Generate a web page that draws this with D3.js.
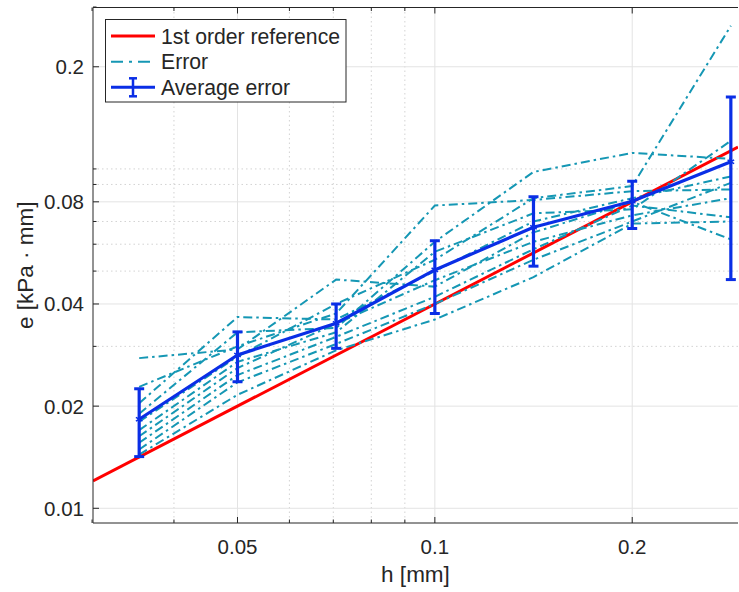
<!DOCTYPE html>
<html lang="en">
<head>
<meta charset="UTF-8">
<script src="https://cdn.jsdelivr.net/npm/d3@7"></script>
<style>
  body { margin: 0; background: #fff; }
  text { font-family: "Liberation Sans", Arial, Helvetica, sans-serif; fill: #262626; }
</style>
</head>
<body>
<div id="chart"></div>
<script>
// step sizes h [mm]
const hValues = [0.0354, 0.05, 0.0707, 0.1, 0.1414, 0.2, 0.2828];

// individual error curves
const errorSeries = [
  [0.0204, 0.0366, 0.0360, 0.0500, 0.0700, 0.0820, 0.0950],
  [0.0277, 0.0294, 0.0472, 0.0450, 0.0650, 0.0800, 0.0620],
  [0.0228, 0.0300, 0.0375, 0.0780, 0.0810, 0.0860, 0.0870],
  [0.0190, 0.0330, 0.0340, 0.0610, 0.0980, 0.1115, 0.1070],
  [0.0180, 0.0280, 0.0400, 0.0540, 0.0820, 0.0890, 0.2640],
  [0.0170, 0.0270, 0.0330, 0.0570, 0.0740, 0.0760, 0.1210],
  [0.0163, 0.0259, 0.0350, 0.0470, 0.0610, 0.0730, 0.0820],
  [0.0156, 0.0247, 0.0320, 0.0420, 0.0580, 0.0780, 0.0720],
  [0.0149, 0.0235, 0.0305, 0.0400, 0.0540, 0.0700, 0.0910],
  [0.0144, 0.0216, 0.0292, 0.0360, 0.0480, 0.0690, 0.0700]
];

// average error with error bar limits
const avgError = [0.0183, 0.0283, 0.0351, 0.0504, 0.0673, 0.0803, 0.1050];
const avgLow   = [0.0142, 0.0236, 0.0296, 0.0375, 0.0517, 0.0667, 0.0472];
const avgHigh  = [0.0225, 0.0331, 0.0400, 0.0614, 0.0828, 0.0920, 0.1630];

// 1st order reference line end points
const refH = [0.0301, 0.29];
const refE = [0.01204, 0.116];

// ticks
const xTicks = [0.05, 0.1, 0.2];
const xMinor = [0.03, 0.04, 0.06, 0.07, 0.08, 0.09];
const yTicks = [0.01, 0.02, 0.04, 0.08, 0.2];
const yMinor = [0.03, 0.05, 0.06, 0.07, 0.09, 0.1, 0.3];

const legendLabels = ["1st order reference", "Error", "Average error"];

const width = 739, height = 592;
const plot = { left: 93, right: 738, top: 7.5, bottom: 523 };

const red = "#ff0000", cyan = "#1597b4", blue = "#0a2ee6";

const svg = d3.select("#chart").append("svg")
  .attr("width", width)
  .attr("height", height);

svg.append("rect").attr("width", width).attr("height", height).attr("fill", "#fff");

const x = d3.scaleLog().domain([0.0301, 0.29]).range([plot.left, plot.right]);
const y = d3.scaleLog().domain([0.00905, 0.299]).range([plot.bottom, plot.top]);

// grid
const grid = svg.append("g");
grid.selectAll(".xminor").data(xMinor.filter(d => x(d) > plot.left + 1)).join("line")
  .attr("x1", d => x(d)).attr("x2", d => x(d))
  .attr("y1", plot.top).attr("y2", plot.bottom)
  .attr("stroke", "#c8c8c8").attr("stroke-width", 0.8).attr("stroke-dasharray", "1.5,3");
grid.selectAll(".yminor").data(yMinor.filter(d => y(d) > plot.top + 1)).join("line")
  .attr("y1", d => y(d)).attr("y2", d => y(d))
  .attr("x1", plot.left).attr("x2", plot.right)
  .attr("stroke", "#c8c8c8").attr("stroke-width", 0.8).attr("stroke-dasharray", "1.5,3");
grid.selectAll(".xmajor").data(xTicks).join("line")
  .attr("x1", d => x(d)).attr("x2", d => x(d))
  .attr("y1", plot.top).attr("y2", plot.bottom)
  .attr("stroke", "#e3e3e3").attr("stroke-width", 1);
grid.selectAll(".ymajor").data(yTicks).join("line")
  .attr("y1", d => y(d)).attr("y2", d => y(d))
  .attr("x1", plot.left).attr("x2", plot.right)
  .attr("stroke", "#e3e3e3").attr("stroke-width", 1);

// clip
svg.append("clipPath").attr("id", "clip").append("rect")
  .attr("x", plot.left).attr("y", plot.top)
  .attr("width", plot.right - plot.left).attr("height", plot.bottom - plot.top);

const marks = svg.append("g").attr("clip-path", "url(#clip)");

const line = d3.line().x(d => x(d[0])).y(d => y(d[1]));

// reference line
marks.append("path")
  .datum(refH.map((h, i) => [h, refE[i]]))
  .attr("d", line)
  .attr("fill", "none").attr("stroke", red).attr("stroke-width", 3);

// error curves
marks.selectAll(".err").data(errorSeries).join("path")
  .attr("d", s => line(hValues.map((h, i) => [h, s[i]])))
  .attr("fill", "none").attr("stroke", cyan)
  .attr("stroke-width", 2).attr("stroke-dasharray", "9,4,2.5,4");

// average error line
marks.append("path")
  .datum(hValues.map((h, i) => [h, avgError[i]]))
  .attr("d", line)
  .attr("fill", "none").attr("stroke", blue).attr("stroke-width", 3.2)
  .attr("stroke-linejoin", "round");

// error bars
const bars = marks.selectAll(".bar").data(hValues).join("g");
bars.append("line")
  .attr("x1", d => x(d)).attr("x2", d => x(d))
  .attr("y1", (d, i) => y(avgLow[i])).attr("y2", (d, i) => y(avgHigh[i]))
  .attr("stroke", blue).attr("stroke-width", 3.2);
bars.append("line")
  .attr("x1", d => x(d) - 5).attr("x2", d => x(d) + 5)
  .attr("y1", (d, i) => y(avgLow[i])).attr("y2", (d, i) => y(avgLow[i]))
  .attr("stroke", blue).attr("stroke-width", 3);
bars.append("line")
  .attr("x1", d => x(d) - 5).attr("x2", d => x(d) + 5)
  .attr("y1", (d, i) => y(avgHigh[i])).attr("y2", (d, i) => y(avgHigh[i]))
  .attr("stroke", blue).attr("stroke-width", 3);
bars.append("path")
  .attr("transform", (d, i) => `translate(${x(d)},${y(avgError[i])})`)
  .attr("d", d3.symbol(d3.symbolAsterisk, 40))
  .attr("fill", "none").attr("stroke", blue).attr("stroke-width", 1.5);

// axes box
const axisColor = "#262626";
svg.append("line").attr("x1", plot.left).attr("x2", plot.right)
  .attr("y1", plot.bottom).attr("y2", plot.bottom).attr("stroke", axisColor).attr("stroke-width", 1);
svg.append("line").attr("x1", plot.left).attr("x2", plot.left)
  .attr("y1", plot.top).attr("y2", plot.bottom).attr("stroke", axisColor).attr("stroke-width", 1);
svg.append("line").attr("x1", plot.left).attr("x2", plot.right)
  .attr("y1", plot.top).attr("y2", plot.top).attr("stroke", axisColor).attr("stroke-width", 1);

// ticks (inward)
const allX = xTicks.map(d => [d, 6]).concat(xMinor.map(d => [d, 3.5]));
svg.selectAll(".xt").data(allX).join("line")
  .attr("x1", d => x(d[0])).attr("x2", d => x(d[0]))
  .attr("y1", plot.bottom).attr("y2", d => plot.bottom - d[1])
  .attr("stroke", axisColor);
svg.selectAll(".xtt").data(allX).join("line")
  .attr("x1", d => x(d[0])).attr("x2", d => x(d[0]))
  .attr("y1", plot.top).attr("y2", d => plot.top + d[1])
  .attr("stroke", axisColor);
const allY = yTicks.map(d => [d, 6]).concat(yMinor.map(d => [d, 3.5]));
svg.selectAll(".yt").data(allY).join("line")
  .attr("y1", d => y(d[0])).attr("y2", d => y(d[0]))
  .attr("x1", plot.left).attr("x2", d => plot.left + d[1])
  .attr("stroke", axisColor);

// tick labels
svg.selectAll(".xl").data(xTicks).join("text")
  .attr("x", d => x(d)).attr("y", 546)
  .attr("text-anchor", "middle").attr("dominant-baseline", "central")
  .attr("font-size", 20.5)
  .text(d => d);
svg.selectAll(".yl").data(yTicks).join("text")
  .attr("x", 84).attr("y", d => y(d))
  .attr("text-anchor", "end").attr("dominant-baseline", "central")
  .attr("font-size", 20.5)
  .text(d => d);

// axis labels
svg.append("text")
  .attr("x", (plot.left + plot.right) / 2).attr("y", 574)
  .attr("text-anchor", "middle").attr("dominant-baseline", "central")
  .attr("font-size", 22.5)
  .text("h [mm]");
svg.append("text")
  .attr("transform", `translate(25,${(plot.top + plot.bottom) / 2}) rotate(-90)`)
  .attr("text-anchor", "middle").attr("dominant-baseline", "central")
  .attr("font-size", 22.5)
  .text("e [kPa · mm]");

// legend
const legend = svg.append("g");
legend.append("rect")
  .attr("x", 105.5).attr("y", 19.5).attr("width", 240.5).attr("height", 82.5)
  .attr("fill", "#fff").attr("stroke", axisColor).attr("stroke-width", 1);
const rowY = [36, 61.7, 87.3];
legend.append("line").attr("x1", 111).attr("x2", 155).attr("y1", rowY[0]).attr("y2", rowY[0])
  .attr("stroke", red).attr("stroke-width", 3);
legend.append("line").attr("x1", 111).attr("x2", 155).attr("y1", rowY[1]).attr("y2", rowY[1])
  .attr("stroke", cyan).attr("stroke-width", 2).attr("stroke-dasharray", "12,6,3,6");
legend.append("line").attr("x1", 111).attr("x2", 155).attr("y1", rowY[2]).attr("y2", rowY[2])
  .attr("stroke", blue).attr("stroke-width", 3);
legend.append("line").attr("x1", 133).attr("x2", 133).attr("y1", rowY[2] - 9).attr("y2", rowY[2] + 9)
  .attr("stroke", blue).attr("stroke-width", 2.5);
legend.append("line").attr("x1", 129).attr("x2", 137).attr("y1", rowY[2] - 9).attr("y2", rowY[2] - 9)
  .attr("stroke", blue).attr("stroke-width", 2.5);
legend.append("line").attr("x1", 129).attr("x2", 137).attr("y1", rowY[2] + 9).attr("y2", rowY[2] + 9)
  .attr("stroke", blue).attr("stroke-width", 2.5);
legend.selectAll(".lt").data(legendLabels).join("text")
  .attr("x", 161).attr("y", (d, i) => rowY[i])
  .attr("dominant-baseline", "central")
  .attr("font-size", 21.2)
  .text(d => d);
</script>
</body>
</html>
